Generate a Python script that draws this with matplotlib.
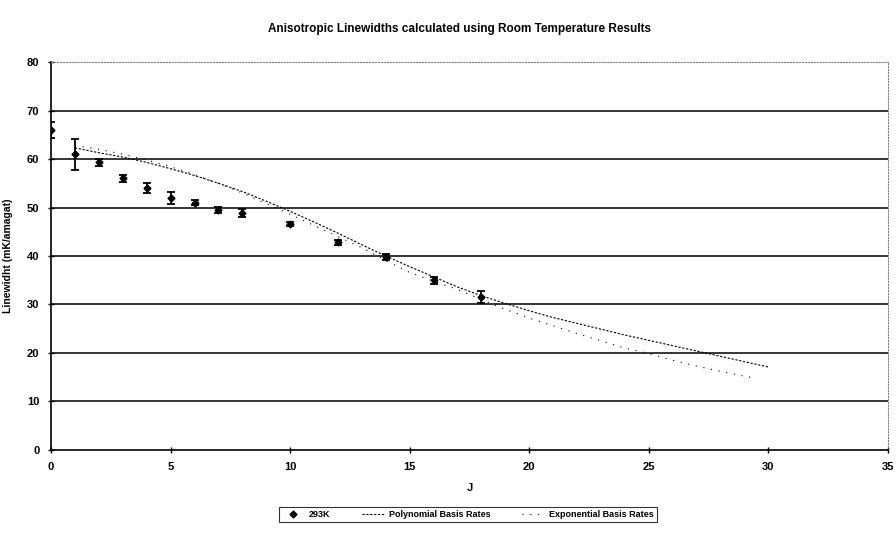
import numpy as np
import matplotlib.pyplot as plt

plt.rcParams['font.family'] = ['Liberation Sans', 'DejaVu Sans']
plt.rcParams['font.weight'] = 'bold'

# measured linewidths at 293K
j_meas = [0, 1, 2, 3, 4, 5, 6, 7, 8, 10, 12, 14, 16, 18]
w_meas = [66.0, 61.0, 59.3, 56.0, 54.0, 52.0, 51.0, 49.5, 48.8, 46.6, 42.8, 39.8, 35.0, 31.5]
w_err = [1.6, 3.2, 0.7, 0.8, 1.0, 1.2, 0.5, 0.7, 0.8, 0.5, 0.5, 0.6, 0.7, 1.2]

# polynomial basis rates
j_poly = list(range(1, 31))
w_poly = [62.3, 61.3, 60.4, 59.3, 58.0, 56.6, 55.0, 53.3, 51.3, 49.2,
          47.0, 44.7, 42.3, 40.0, 37.8, 35.7, 33.6, 31.8, 30.2, 28.7,
          27.3, 26.1, 24.9, 23.7, 22.6, 21.5, 20.4, 19.3, 18.2, 17.1]

# exponential basis rates
j_exp = list(range(1, 30)) + [29.5]
w_exp = [62.8, 62.0, 61.0, 59.8, 58.4, 56.8, 55.0, 53.0, 50.8, 48.6,
         46.3, 44.0, 41.7, 39.1, 36.6, 34.8, 33.1, 31.0, 29.0, 27.2,
         25.6, 24.0, 22.5, 21.0, 19.9, 18.5, 17.3, 16.2, 15.2, 14.8]

fig = plt.figure(figsize=(8.96, 5.35), dpi=100)
ax = fig.add_axes([0.057, 0.159, 0.934, 0.725])

for y in range(10, 80, 10):
    ax.axhline(y, color='black', linewidth=1.1, zorder=1)

meas = ax.errorbar(j_meas, w_meas, yerr=w_err, fmt='D', color='black', markersize=3.5,
                   capsize=3, elinewidth=1.3, capthick=1.3, zorder=3)
poly, = ax.plot(j_poly, w_poly, color='black', linestyle=(0, (2, 1.5)), linewidth=0.8,
                zorder=2)
expo, = ax.plot(j_exp, w_exp, color='black', linestyle=(0, (1, 6)), linewidth=0.8,
                zorder=2)

ax.set_xlim(0, 35)
ax.set_ylim(0, 80)
ax.set_xticks(range(0, 36, 5))
ax.set_yticks(range(0, 81, 10))
ax.tick_params(direction='inout', length=5, width=1, labelsize=8, pad=6)

ax.spines['left'].set_linewidth(1.2)
ax.spines['bottom'].set_linewidth(1.2)
ax.spines['top'].set_linestyle(':')
ax.spines['top'].set_color('gray')
ax.spines['right'].set_linestyle(':')
ax.spines['right'].set_color('gray')

ax.set_xlabel('J', fontsize=8, fontweight='bold', labelpad=8)
ax.set_ylabel('Linewidht (mK/amagat)', fontsize=7.5, fontweight='bold', labelpad=10)

fig.text(0.513, 0.945, 'Anisotropic Linewidths calculated using Room Temperature Results',
         ha='center', va='center', fontsize=8.5, fontweight='bold')

marker_handle = plt.Line2D([], [], marker='D', color='black', linestyle='none', markersize=3.5)
leg = fig.legend([marker_handle, poly, expo],
                 ['293K', 'Polynomial Basis Rates', 'Exponential Basis Rates'],
                 loc='center', bbox_to_anchor=(0.522, 0.038), ncol=3, fontsize=6.5,
                 frameon=True, fancybox=False, edgecolor='black', handlelength=2.5,
                 columnspacing=3.5, borderpad=0.3, handletextpad=0.5)
leg.get_frame().set_linewidth(0.8)

fig.savefig('out.png', dpi=100)
